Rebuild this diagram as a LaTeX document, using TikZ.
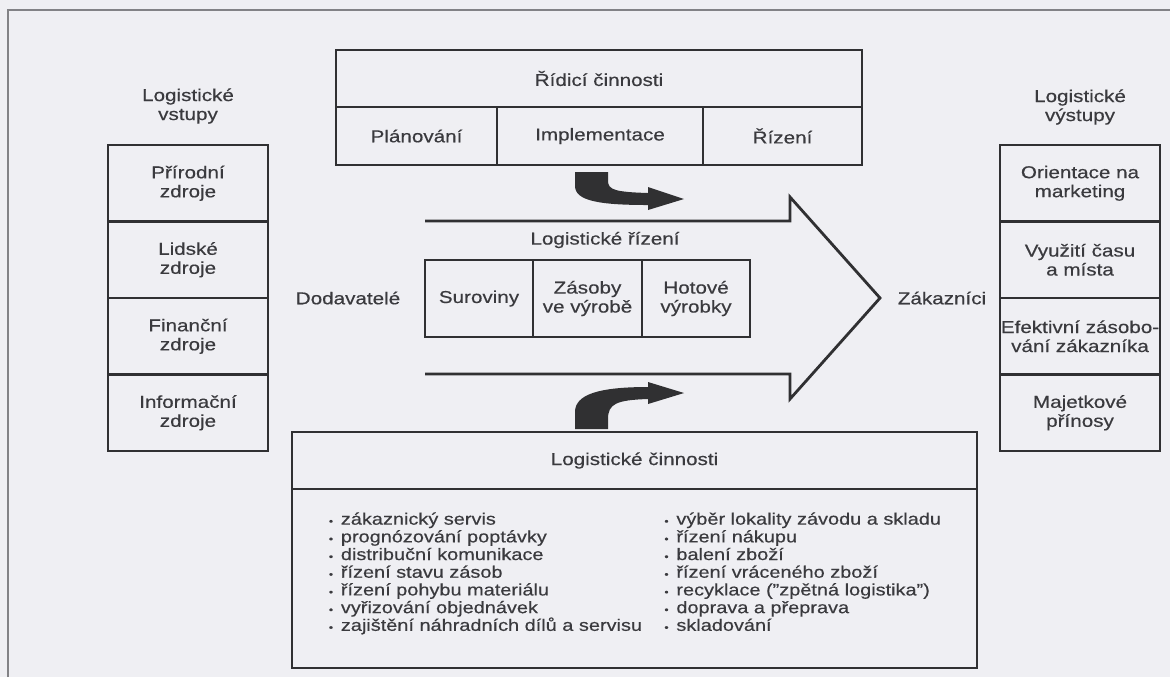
\documentclass[tikz,border=0pt]{standalone}
\usepackage{fontspec}
\setmainfont{Liberation Sans}[FakeStretch=1.2, FakeBold=0.4]
\usepackage{tikz}

\definecolor{pagebg}{RGB}{239,239,243}
\definecolor{inkc}{RGB}{48,48,50}
\definecolor{textc}{RGB}{58,58,62}
\definecolor{framec}{RGB}{130,130,134}
\newcommand{\itm}{\makebox[6pt][l]{\fontsize{5}{5}\selectfont\textbullet}}

\begin{document}
\begin{tikzpicture}[x=0.5pt, y=-0.5pt,
    cell/.style={draw=inkc, line width=1.4pt, text=textc, align=center, inner sep=0pt,
      font=\fontsize{8.6}{9.5}\selectfont},
    lbl/.style={text=textc, align=center, inner sep=0pt, font=\fontsize{8.6}{9.5}\selectfont},
    listtext/.style={text=textc, align=left, inner sep=0pt, anchor=north west,
      font=\fontsize{8.3}{8.85}\selectfont}]

    % Page
    \useasboundingbox[fill=pagebg] (0,0) rectangle (1170,677);
    \draw[framec, line width=1pt] (8,677) -- (8,10) -- (1170,10);

    % Logistic inputs
    \node[lbl] (vstupy) at (188,106) {Logistické\\vstupy};
    \node[cell, minimum width=80pt, minimum height=38.25pt] (prirodni) at (188,183.25) {Přírodní\\zdroje};
    \node[cell, minimum width=80pt, minimum height=38.25pt] (lidske) at (188,259.75) {Lidské\\zdroje};
    \node[cell, minimum width=80pt, minimum height=38.25pt] (financni) at (188,336.25) {Finanční\\zdroje};
    \node[cell, minimum width=80pt, minimum height=38.25pt] (informacni) at (188,412.75) {Informační\\zdroje};

    % Control activities
    \node[cell, minimum width=263pt, minimum height=28.5pt] (ridici) at (599,78.5) {Řídicí činnosti};
    \node[cell, minimum width=80.5pt, minimum height=29pt] (planovani) at (416.5,136) {Plánování};
    \node[cell, minimum width=103pt, minimum height=29pt] (implementace) at (600,136) {Implementace};
    \node[cell, minimum width=79.5pt, minimum height=29pt] (rizeni) at (782.5,136) {Řízení};

    % Logistic management (big arrow)
    \draw[inkc, line width=1.4pt, line join=miter]
      (425,221) -- (790,221) -- (790,197) -- (880,298) -- (790,399) -- (790,374) -- (425,374);
    \node[lbl] (logrizeni) at (605,240) {Logistické řízení};
    \node[lbl] (dodavatele) at (348,298) {Dodavatelé};
    \node[lbl] (zakaznici) at (942,298) {Zákazníci};
    \node[cell, minimum width=54pt, minimum height=38.5pt] (suroviny) at (479,298.5) {Suroviny};
    \node[cell, minimum width=54.5pt, minimum height=38.5pt] (zasoby) at (587.5,298.5) {Zásoby\\ve výrobě};
    \node[cell, minimum width=54pt, minimum height=38.5pt] (hotove) at (696,298.5) {Hotové\\výrobky};

    % Curved arrows
    \fill[inkc] (575,172) -- (608,172) -- (608,181) .. controls (608,190) and (616,192) .. (648,193)
      -- (648,187) -- (684,199) -- (648,210) -- (648,205) .. controls (600,205) and (575,201) .. (575,186) -- cycle;
    \fill[inkc] (575,429) -- (608,429) -- (608,419) .. controls (608,404) and (616,400) .. (648,399)
      -- (648,404) -- (684,393) -- (648,382) -- (648,387) .. controls (600,387) and (575,394) .. (575,412) -- cycle;

    % Logistic outputs
    \node[lbl] (vystupy) at (1080,107) {Logistické\\výstupy};
    \node[cell, minimum width=80pt, minimum height=38.25pt] (marketing) at (1080,183.25) {Orientace na\\marketing};
    \node[cell, minimum width=80pt, minimum height=38.25pt] (cas) at (1080,259.75) {Využití času\\a místa};
    \node[cell, minimum width=80pt, minimum height=38.25pt] (zasobovani) at (1080,336.25) {Efektivní zásobo-\\vání zákazníka};
    \node[cell, minimum width=80pt, minimum height=38.25pt] (prinosy) at (1080,412.75) {Majetkové\\přínosy};

    % Logistic activities
    \node[cell, minimum width=342.5pt, minimum height=28.5pt] (cinnosti) at (634.5,460.5) {Logistické činnosti};
    \node[cell, minimum width=342.5pt, minimum height=89.5pt] (seznam) at (634.5,578.5) {};
    \node[listtext] (levy) at (328.5,512) {\itm zákaznický servis\\
      \itm prognózování poptávky\\
      \itm distribuční komunikace\\
      \itm řízení stavu zásob\\
      \itm řízení pohybu materiálu\\
      \itm vyřizování objednávek\\
      \itm zajištění náhradních dílů a servisu};
    \node[listtext] (pravy) at (664,512) {\itm výběr lokality závodu a skladu\\
      \itm řízení nákupu\\
      \itm balení zboží\\
      \itm řízení vráceného zboží\\
      \itm recyklace ("zpětná logistika")\\
      \itm doprava a přeprava\\
      \itm skladování};
\end{tikzpicture}
\end{document}
